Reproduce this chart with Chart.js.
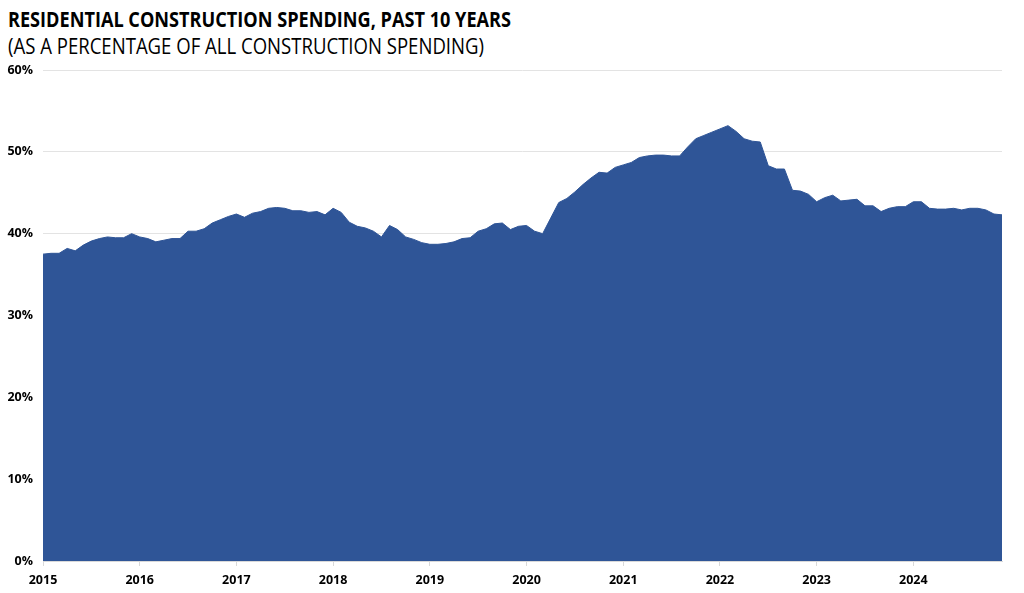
<!DOCTYPE html>
<html>
<head>
<meta charset="utf-8">
<script src="https://cdn.jsdelivr.net/npm/chart.js@4.4.1/dist/chart.umd.min.js"></script>
<style>
  html, body { margin: 0; padding: 0; background: #fff; }
  #wrap { position: relative; width: 1024px; height: 593px; overflow: hidden; }
  #titulo, #subtitulo { position: absolute; left: 8px; white-space: nowrap; color: #000; font-family: "Open Sans", sans-serif; transform-origin: left top; }
  #titulo { top: 5px; font-size: 21px; font-weight: 700; }
  #subtitulo { top: 32px; font-size: 21px; font-weight: 400; }
  canvas { position: absolute; left: 0; top: 0; }
</style>
</head>
<body>
<div id="wrap">
  <div id="titulo">RESIDENTIAL CONSTRUCTION SPENDING, PAST 10 YEARS</div>
  <div id="subtitulo">(AS A PERCENTAGE OF ALL CONSTRUCTION SPENDING)</div>
  <canvas id="grafico" width="1024" height="593"></canvas>
</div>
<script>
// anos exibidos no eixo x
const anos = ['2015', '2016', '2017', '2018', '2019', '2020', '2021', '2022', '2023', '2024'];

// % residencial mensal, um array por ano (jan..dez)
const v2015 = [37.5, 37.6, 37.6, 38.2, 37.9, 38.6, 39.1, 39.4, 39.6, 39.5, 39.5, 40.0];
const v2016 = [39.6, 39.4, 39.0, 39.2, 39.4, 39.4, 40.3, 40.3, 40.6, 41.3, 41.7, 42.1];
const v2017 = [42.4, 42.0, 42.5, 42.7, 43.1, 43.2, 43.1, 42.8, 42.8, 42.6, 42.7, 42.3];
const v2018 = [43.1, 42.6, 41.4, 40.9, 40.7, 40.3, 39.6, 41.0, 40.5, 39.6, 39.3, 38.9];
const v2019 = [38.7, 38.7, 38.8, 39.0, 39.4, 39.5, 40.3, 40.6, 41.2, 41.3, 40.5, 40.9];
const v2020 = [41.0, 40.3, 40.0, 41.9, 43.8, 44.3, 45.1, 46.0, 46.8, 47.5, 47.4, 48.1];
const v2021 = [48.4, 48.7, 49.3, 49.5, 49.6, 49.6, 49.5, 49.5, 50.6, 51.6, 52.0, 52.4];
const v2022 = [52.8, 53.2, 52.5, 51.6, 51.3, 51.2, 48.3, 47.9, 47.9, 45.3, 45.2, 44.8];
const v2023 = [43.9, 44.4, 44.7, 44.0, 44.1, 44.2, 43.4, 43.4, 42.7, 43.1, 43.3, 43.3];
const v2024 = [43.9, 43.9, 43.1, 43.0, 43.0, 43.1, 42.9, 43.1, 43.1, 42.9, 42.4, 42.3];

// ticks do eixo y
const ticksY = [0, 10, 20, 30, 40, 50, 60];

const valores = [].concat(v2015, v2016, v2017, v2018, v2019, v2020, v2021, v2022, v2023, v2024);
const rotulos = [];
anos.forEach(a => {
  for (let m = 1; m <= 12; m++) rotulos.push(a + '-' + String(m).padStart(2, '0'));
});

// ajusta largura dos textos do titulo
function ajustaLargura(id, alvo) {
  const el = document.getElementById(id);
  const w = el.getBoundingClientRect().width;
  el.style.transform = 'scaleX(' + (alvo / w) + ')';
}
ajustaLargura('titulo', 503);
ajustaLargura('subtitulo', 476);

const fonteTick = { family: '"Open Sans", sans-serif', size: 12.5, weight: 'bold' };

new Chart(document.getElementById('grafico').getContext('2d'), {
  type: 'line',
  data: {
    labels: rotulos,
    datasets: [{
      label: 'Residencial',
      data: valores,
      fill: 'origin',
      backgroundColor: '#2F5597',
      borderColor: '#2F5597',
      borderWidth: 1,
      pointRadius: 0,
      tension: 0
    }]
  },
  options: {
    responsive: false,
    animation: false,
    layout: { padding: { top: 70, right: 22, bottom: 0, left: 0 } },
    plugins: { legend: { display: false }, tooltip: { enabled: false } },
    scales: {
      x: {
        type: 'category',
        offset: false,
        border: { color: '#d9d9d9' },
        grid: {
          drawOnChartArea: false,
          tickLength: 5,
          tickColor: ctx => (ctx.index % 12 === 0 ? '#d9d9d9' : 'rgba(0,0,0,0)')
        },
        ticks: {
          autoSkip: false,
          maxRotation: 0,
          padding: 7,
          color: '#000',
          font: fonteTick,
          callback: (v, i) => (i % 12 === 0 ? rotulos[i].slice(0, 4) : '')
        },
        afterFit: s => { s.height = 32; }
      },
      y: {
        min: ticksY[0],
        max: ticksY[ticksY.length - 1],
        border: { display: false },
        grid: { color: '#e3e3e3', drawTicks: false },
        ticks: {
          stepSize: 10,
          padding: 10,
          color: '#000',
          font: fonteTick,
          callback: v => v + '%'
        },
        afterFit: s => { s.width = 43; }
      }
    }
  }
});
</script>
</body>
</html>
